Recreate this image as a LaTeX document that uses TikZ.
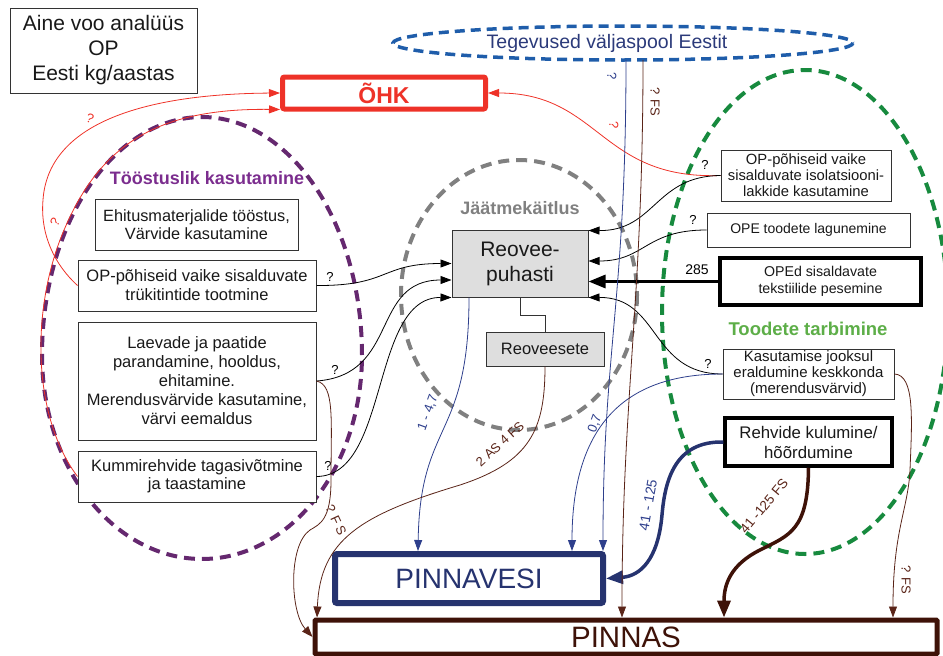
\documentclass[tikz,border=0pt]{standalone}
\usepackage{fontspec}
\setmainfont{Liberation Sans}
\usetikzlibrary{arrows.meta}
\definecolor{ohkred}{HTML}{EE3228}
\definecolor{navy}{HTML}{26336F}
\definecolor{lnavy}{HTML}{2E3F8C}
\definecolor{tegblue}{HTML}{1F5DAA}
\definecolor{tegtext}{HTML}{2B3A7A}
\definecolor{pbrown}{HTML}{3E1208}
\definecolor{lbrown}{HTML}{5A2418}
\definecolor{purp}{HTML}{65286F}
\definecolor{purptext}{HTML}{7B2D8E}
\definecolor{grey1}{HTML}{808080}
\definecolor{greendash}{HTML}{178A3E}
\definecolor{greentext}{HTML}{5DAE48}
\definecolor{boxfill}{HTML}{DEDEDE}
\definecolor{boxline}{HTML}{333333}
\newcommand\myfs[2]{\fontsize{#1}{#2}\selectfont}
\begin{document}
\begin{tikzpicture}[x=1pt,y=-1pt,
  box/.style={draw=boxline, line width=1pt, fill=white, inner sep=0pt, align=center, text=black!90},
  thickbox/.style={draw=black, line width=3.5pt, fill=white, inner sep=0pt, align=center, text=black!90},
  lbl/.style={inner sep=1pt, font=\myfs{13}{15}},
  arr/.style={-{Triangle[length=11pt,width=8pt]}},
  bigarr/.style={-{Triangle[length=17pt,width=13pt]}},
  thinblack/.style={black, line width=0.8pt, arr},
  thinblue/.style={lnavy, line width=0.8pt, arr},
  thinbrown/.style={lbrown, line width=0.8pt, arr},
  thinred/.style={ohkred, line width=0.8pt, arr},
  dashring/.style={line width=4pt, dash pattern=on 11pt off 7pt},
]
\useasboundingbox (0,0) rectangle (943,656);

% ---- groups (dashed ellipses) ----
\draw[tegblue, line width=3.5pt, dash pattern=on 10pt off 6pt] (623,43) ellipse [x radius=230, y radius=17];
\draw[grey1, dashring] (519,295) ellipse [x radius=118, y radius=135];
\draw[greendash, dashring] (805,312) ellipse [x radius=143, y radius=242];
\draw[purp, dashring] plot[domain=0:360, samples=140, smooth] ({202+160*cos(\x)}, {355-(sin(\x)>0 ? 238 : 204)*sin(\x)}) -- cycle;

\node[font=\bfseries\myfs{18}{20}, text=purptext] (tl) at (207,178) {Tööstuslik kasutamine};
\node[font=\bfseries\myfs{18}{20}, text=grey1] (jl) at (520,208) {Jäätmekäitlus};
\node[font=\bfseries\myfs{18.5}{20}, text=greentext] (gl) at (808,329) {Toodete tarbimine};
\node[font=\myfs{19.5}{21}, text=tegtext, inner sep=0pt] (teg) at (607,43) {Tegevused väljaspool Eestit};

% ---- boxes ----
\node[box, minimum width=187pt, minimum height=85pt, font=\myfs{21}{25}] (title) at (103.5,50.5) {Aine voo analüüs\\OP\\Eesti kg/aastas};
\node[draw=ohkred, line width=5pt, rounded corners=2pt, fill=white, minimum width=203pt, minimum height=32pt, inner sep=0pt, text=ohkred, font=\bfseries\myfs{23}{25}] (ohk) at (384,93) {ÕHK};

\node[box, minimum width=203pt, minimum height=51pt, font=\myfs{16.3}{18}] (ehit) at (196.5,224.5) {Ehitusmaterjalide tööstus,\\Värvide kasutamine};
\node[box, minimum width=238pt, minimum height=51pt, font=\myfs{16.5}{19}] (truk) at (197,285.5) {OP-põhiseid vaike sisalduvate\\trükitintide tootmine};
\node[box, minimum width=238pt, minimum height=118pt, font=\myfs{16.5}{19}] (laev) at (197,381) {Laevade ja paatide\\parandamine, hooldus,\\ehitamine.\\Merendusvärvide kasutamine,\\värvi eemaldus};
\node[box, minimum width=238pt, minimum height=51pt, font=\myfs{16.5}{18}] (kummi) at (197,476.5) {Kummirehvide tagasivõtmine\\ja taastamine};

\node[box, fill=boxfill, minimum width=136pt, minimum height=67pt, font=\myfs{21}{25}] (reo) at (520,263.5) {Reovee-\\puhasti};
\node[box, fill=boxfill, minimum width=118pt, minimum height=34pt, font=\myfs{16.5}{18}] (sete) at (545,349) {Reoveesete};

\node[box, minimum width=170pt, minimum height=51pt, font=\myfs{14.8}{16}] (iso) at (806,175.5) {OP-põhiseid vaike\\sisalduvate isolatsiooni-\\lakkide kasutamine};
\node[box, minimum width=203pt, minimum height=34pt, font=\myfs{14}{16}] (lag) at (808.5,230) {OPE toodete lagunemine};
\node[thickbox, minimum width=201pt, minimum height=47pt, font=\myfs{14.2}{17}] (opd) at (820.5,281.5) {OPEd sisaldavate\\tekstiilide pesemine};
\node[box, minimum width=171pt, minimum height=50pt, font=\myfs{15}{16}] (kasut) at (808.5,374) {Kasutamise jooksul\\eraldumine keskkonda\\(merendusvärvid)};
\node[thickbox, minimum width=167pt, minimum height=48pt, font=\myfs{16.8}{20}] (rehv) at (808.5,442) {Rehvide kulumine/\\hõõrdumine};

\node[draw=navy, line width=6pt, rounded corners=2pt, fill=white, minimum width=268pt, minimum height=49pt, inner sep=0pt, text=navy, font=\myfs{28}{30}] (pv) at (469,578.5) {PINNAVESI};
\node[draw=pbrown, line width=5pt, rounded corners=1pt, fill=white, minimum width=622pt, minimum height=34pt, inner sep=0pt, text=pbrown, font=\myfs{29.5}{30}] (pin) at (626,637) {PINNAS};

% free ends at the outside-activities ellipse
\coordinate (tegb) at (626,60);
\coordinate (tegc) at (643,60);

% ---- air (red) ----
\draw[thinred] (truk.west) .. controls (55,265) and (40,235) .. (43,200) .. controls (48,125) and (140,94) .. (ohk.west);
\draw[thinred] (kummi.west) .. controls (35,420) and (30,320) .. (60,240) .. controls (95,150) and (150,108) .. ([yshift=2pt]ohk.south west);
\draw[thinred] (iso.west) .. controls (600,180) and (600,93) .. (ohk.east);
\node[lbl, text=ohkred, rotate=-20] (q1) at (90,118) {?};
\node[lbl, text=ohkred, rotate=60] (q2) at (55,222) {?};
\node[lbl, text=ohkred, rotate=-90] (q3) at (614,125) {?};

% ---- into the treatment plant (black) ----
\draw[thinblack] (truk.east) .. controls (390,286) and (380,263.5) .. (reo.west);
\draw[thinblack] (laev.east) .. controls (400,375) and (370,280) .. ([yshift=-16.5pt]reo.west);
\draw[thinblack] (kummi.east) .. controls (390,476) and (370,297) .. (reo.south west);
\node[lbl] (q4) at (330,277) {?};
\node[lbl] (q5) at (335,370) {?};
\node[lbl] (q6) at (328,466) {?};

\draw[thinblack] (iso.west) .. controls (655,176) and (655,231) .. ([yshift=-1pt]reo.north east);
\draw[thinblack] (lag.west) .. controls (645,230) and (645,261) .. ([yshift=-31.5pt]reo.north east);
\draw[black, line width=3pt, -{Triangle[length=17pt,width=13pt]}] (opd.west) -- (reo.east |- opd.west);
\draw[thinblack] (kasut.west) .. controls (650,374) and (660,297) .. (reo.south east);
\node[lbl] (q7) at (705,165) {?};
\node[lbl] (q8) at (693,220) {?};
\node[lbl, font=\myfs{14}{16}] (n285) at (697,270) {285};
\node[lbl] (q9) at (708,364) {?};

\draw[boxline, line width=0.8pt] (reo.south) -- ++(0,18) -| (sete.north);

% ---- surface water (blue) ----
\draw[thinblue] ([xshift=-51pt]reo.south) .. controls (469,440) and (420,420) .. ([xshift=-51pt]pv.north);
\draw[thinblue] (kasut.west) .. controls (630,374) and (572,420) .. ([xshift=103pt]pv.north);
\draw[thinblue] (tegb) .. controls (626,300) and (603,350) .. ([xshift=134pt]pv.north);
\draw[navy, line width=3.5pt, bigarr] (rehv.west) .. controls (675,441) and (665,480) .. (662,515) .. controls (658,560) and (640,576) .. (pv.east);
\node[lbl, text=lnavy, rotate=70] (l147) at (428,413) {1 - 4,7};
\node[lbl, text=lnavy, rotate=70] (l07) at (595,424) {0,7};
\node[lbl, text=lnavy, rotate=-90] (q10) at (612,76) {?};
\node[lbl, text=lnavy, rotate=80, font=\myfs{14}{16}] (l41) at (648,505) {41 - 125};

% ---- soil (brown) ----
\draw[thinbrown] (tegc) .. controls (643,300) and (622,400) .. ([xshift=-4pt]pin.north);
\draw[thinbrown] (laev.east) .. controls (335,385) and (331,420) .. (331,480) .. controls (331,520) and (320,524) .. (310,530) .. controls (288,545) and (290,612) .. (pin.west);
\draw[thinbrown] (sete.south) .. controls (545,430) and (530,462) .. (460,485) .. controls (360,515) and (320,540) .. ([xshift=-309pt]pin.north);
\draw[pbrown, line width=3.5pt, bigarr] (rehv.south) .. controls (808,530) and (790,535) .. (760,550) .. controls (730,565) and (724,585) .. ([xshift=98pt]pin.north);
\draw[thinbrown] (kasut.east) .. controls (915,375) and (912,420) .. (910,470) .. controls (908,510) and (893,530) .. ([xshift=267pt]pin.north);
\node[lbl, text=lbrown, rotate=-90] (lfs1) at (655,102) {? FS};
\node[lbl, text=lbrown, rotate=-65] (lfs2) at (336,520) {? F S};
\node[lbl, text=lbrown, rotate=42] (las) at (500,444) {2 AS 4 FS};
\node[lbl, text=lbrown, rotate=50, font=\myfs{13.5}{15}] (l41fs) at (764,506) {41 -125 FS};
\node[lbl, text=lbrown, rotate=-90] (lfs3) at (906,580) {? FS};
\end{tikzpicture}
\end{document}
